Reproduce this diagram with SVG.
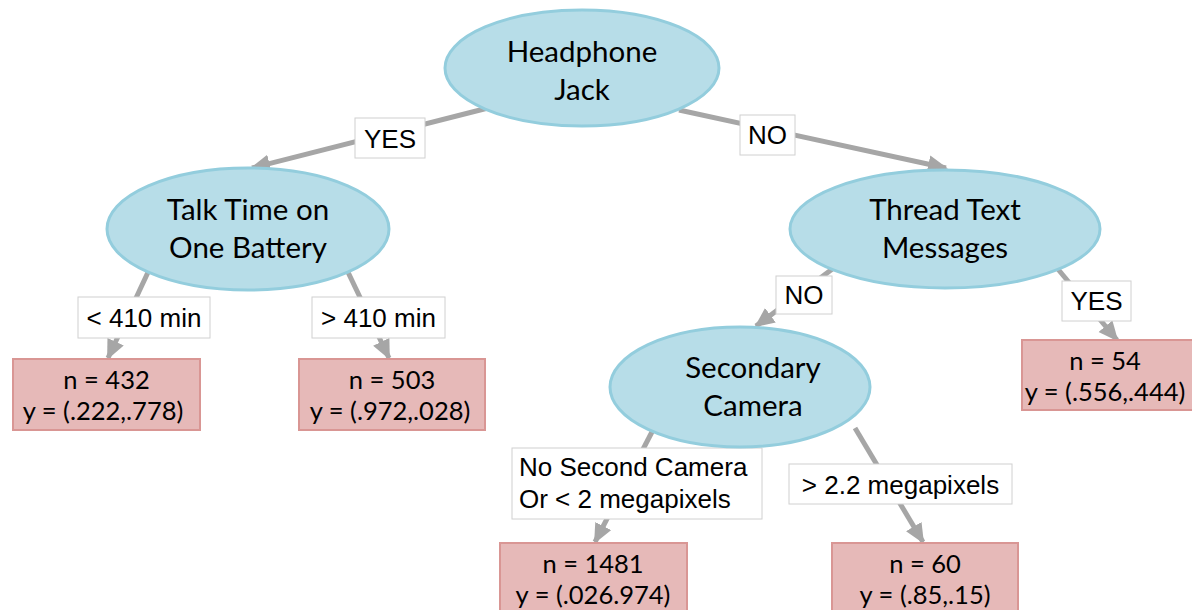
<svg xmlns="http://www.w3.org/2000/svg" width="1192" height="610" viewBox="0 0 1192 610">
<style>
.node ellipse{fill:#b7dde8;stroke:#93cddd;stroke-width:3}
.node text{font-family:Lato,"Open Sans","Liberation Sans",sans-serif;font-size:29.5px;fill:#000;text-anchor:middle}
.leaf rect{fill:#e6b9b8;stroke:#d99694;stroke-width:2}
.leaf text{font-family:Lato,"Open Sans","Liberation Sans",sans-serif;font-size:25.5px;fill:#000;text-anchor:middle}
.conn line{stroke:#a6a6a6;stroke-width:5;marker-end:url(#ah)}
.lbl rect{fill:#fff;stroke:#d0d0d0;stroke-width:1}
.lbl text{font-family:"Liberation Sans",Arial,sans-serif;font-size:26px;fill:#000;text-anchor:middle}
.lbl text.l{text-anchor:start}
</style>
<defs>
<marker id="ah" markerUnits="userSpaceOnUse" markerWidth="22" markerHeight="20" refX="18" refY="9" orient="auto">
<path d="M0,0 L20,9 L0,18 Z" fill="#a6a6a6"/>
</marker>
</defs>
<g id="connectors" class="conn">
<line x1="488" y1="108" x2="252" y2="168"/>
<line x1="679" y1="110" x2="946" y2="168"/>
<line x1="150" y1="268" x2="108" y2="358"/>
<line x1="346" y1="268" x2="389" y2="358"/>
<line x1="835" y1="267" x2="756" y2="326"/>
<line x1="1057" y1="268" x2="1117" y2="340"/>
<line x1="654" y1="428" x2="595" y2="542"/>
<line x1="855" y1="428" x2="923" y2="542"/>
</g>
<g id="labels" class="lbl">
<g id="lbl-yes1"><rect x="355" y="118" width="70" height="40"/><text x="390" y="148">YES</text></g>
<g id="lbl-no1"><rect x="740" y="115" width="55" height="40"/><text x="767.5" y="144">NO</text></g>
<g id="lbl-lt410"><rect x="78" y="297" width="132" height="41"/><text x="144" y="327">&lt; 410 min</text></g>
<g id="lbl-gt410"><rect x="312" y="297" width="133" height="41"/><text x="378.5" y="327">&gt; 410 min</text></g>
<g id="lbl-no2"><rect x="776" y="276" width="56" height="38"/><text x="804" y="304">NO</text></g>
<g id="lbl-yes2"><rect x="1062" y="281" width="69" height="40"/><text x="1096.5" y="310">YES</text></g>
<g id="lbl-nosecond"><rect x="512" y="448" width="250" height="71"/><text class="l" x="519" y="476">No Second Camera</text><text class="l" x="519" y="508">Or &lt; 2 megapixels</text></g>
<g id="lbl-gt22"><rect x="789" y="464" width="223" height="40"/><text x="900.5" y="494">&gt; 2.2 megapixels</text></g>
</g>
<g id="n-headphone" class="node"><ellipse cx="582" cy="68" rx="137" ry="58"/><text x="582" y="62">Headphone</text><text x="582" y="100">Jack</text></g>
<g id="n-talk" class="node"><ellipse cx="248" cy="229" rx="141" ry="61"/><text x="248" y="220">Talk Time on</text><text x="248" y="258">One Battery</text></g>
<g id="n-thread" class="node"><ellipse cx="945" cy="229" rx="155" ry="59"/><text x="945" y="220">Thread Text</text><text x="945" y="258">Messages</text></g>
<g id="n-secondary" class="node"><ellipse cx="740" cy="387" rx="130" ry="60"/><text x="753" y="378">Secondary</text><text x="753" y="416">Camera</text></g>
<g id="leaf-432" class="leaf"><rect x="13" y="359" width="187" height="71"/><text x="106.5" y="389">n = 432</text><text x="103" y="420">y = (.222,.778)</text></g>
<g id="leaf-503" class="leaf"><rect x="299" y="359" width="186" height="71"/><text x="392" y="389">n = 503</text><text x="390" y="420">y = (.972,.028)</text></g>
<g id="leaf-54" class="leaf"><rect x="1022" y="340" width="172" height="70"/><text x="1105" y="370">n = 54</text><text x="1105" y="401">y = (.556,.444)</text></g>
<g id="leaf-1481" class="leaf"><rect x="500" y="543" width="187" height="72"/><text x="593" y="573">n = 1481</text><text x="593" y="604">y = (.026.974)</text></g>
<g id="leaf-60" class="leaf"><rect x="832" y="543" width="186" height="72"/><text x="925" y="573">n = 60</text><text x="925" y="604">y = (.85,.15)</text></g>
</svg>
